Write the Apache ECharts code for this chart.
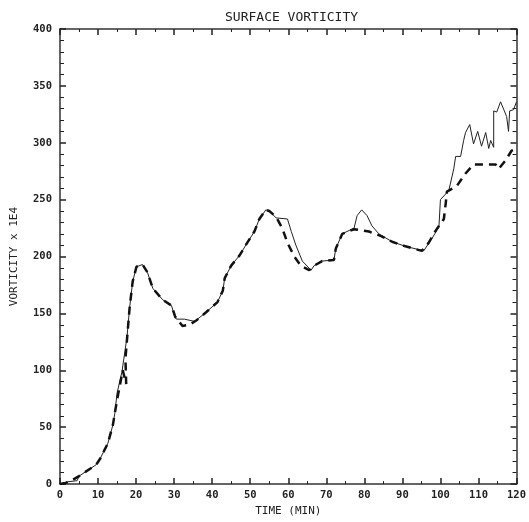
<!DOCTYPE html>
<html>
<head>
<meta charset="utf-8">
<script src="https://cdn.jsdelivr.net/npm/echarts@6/dist/echarts.min.js"></script>
<style>
html, body { margin: 0; padding: 0; background: #fff; }
#main { width: 529px; height: 522px; }
</style>
</head>
<body>
<div id="main"></div>
<script>
// solid curve
var solidTime = [0, 2, 4.5, 5, 9.5, 10.5, 12.6, 13.9, 14.4, 15, 16.3, 17.6, 18.3, 19.1, 20.1, 21.7, 23, 24.4, 27, 29.3, 30.1, 30.6, 32.7, 35.4, 38.4, 41.4, 42.8, 43.3, 45, 47.2, 49.2, 51.1, 52.4, 54.1, 55, 56.8, 59.8, 60.8, 62, 63.7, 66, 66.8, 68.9, 72, 72.5, 74.2, 77.3, 78.1, 79.3, 80.7, 82, 83.8, 87.3, 90.8, 95.6, 97.8, 99.6, 100, 102.2, 103.5, 104, 105.3, 106.1, 106.6, 107.7, 108.7, 109.8, 110.8, 111.9, 112.7, 113.2, 114, 114, 114.8, 115.8, 116.8, 117.4, 117.9, 118.2, 119.2, 120];
var solidVort = [0, 2, 3, 7, 17, 22, 36, 52, 62, 80, 99, 129, 155, 178, 191, 193, 186, 172, 162, 157, 148, 145, 145, 143, 151, 160, 170, 181, 192, 201, 212, 222, 233, 241, 240, 234, 233, 222, 210, 196, 188, 192, 196, 197, 207, 220, 225, 236, 241, 236, 227, 220, 213, 209, 205, 216, 226, 250, 258, 277, 288, 288, 302, 309, 316, 299, 310, 297, 309, 295, 302, 296, 328, 327, 336, 328, 323, 310, 328, 329, 336];

// dashed curve
var dashTime = [0, 1.5, 3, 5, 9.5, 10.5, 12.6, 13.9, 15, 16.5, 17.4, 17.2, 17.8, 18.3, 19.1, 20.1, 21.7, 23, 24.4, 27, 29.3, 30.3, 32.2, 34, 35.9, 38.4, 41.4, 42.8, 43.3, 45, 47.2, 49.2, 51.1, 52.4, 54.1, 55, 56.8, 58.4, 59.8, 61.6, 63.3, 65.5, 66.8, 68.9, 72, 72.5, 74.2, 77.3, 81.2, 84.4, 87.3, 90.8, 95.1, 96.9, 98.8, 100.9, 101.4, 101.7, 104.3, 106.6, 108.7, 111.9, 114.5, 115.3, 117, 118.7, 120];
var dashVort = [0, 1, 3, 7, 17, 22, 36, 52, 74, 100, 88, 110, 135, 155, 178, 191, 193, 186, 172, 162, 157, 147, 139, 140, 144, 151, 160, 170, 181, 192, 201, 212, 222, 233, 241, 240, 235, 225, 212, 200, 192, 188, 192, 196, 197, 207, 220, 224, 222, 218, 213, 209, 205, 212, 223, 233, 247, 257, 262, 273, 281, 281, 281, 277, 284, 293, 295];

var xTicks = [0, 10, 20, 30, 40, 50, 60, 70, 80, 90, 100, 110, 120];
var yTicks = [0, 50, 100, 150, 200, 250, 300, 350, 400];

function pairs(t, v) {
    var out = [];
    for (var i = 0; i < t.length; i++) {
        out.push([t[i], v[i]]);
    }
    return out;
}

var font = 'DejaVu Sans Mono';
var axisLine = { show: true, onZero: false, lineStyle: { color: '#333', width: 1.5 } };

function xAxisCfg(pos, labels) {
    return {
        type: 'value', position: pos, min: 0, max: 120, interval: 10,
        axisLine: axisLine,
        axisTick: { show: true, inside: true, length: 6, lineStyle: { color: '#222', width: 1.5 } },
        minorTick: { show: true, splitNumber: 2, length: 3, lineStyle: { color: '#222', width: 1 } },
        splitLine: { show: false },
        axisLabel: { show: labels, color: '#222', fontFamily: font, fontSize: 10.5, fontWeight: 'bold', margin: 6 },
        name: labels ? 'TIME (MIN)' : '',
        nameLocation: 'middle', nameGap: 19,
        nameTextStyle: { color: '#222', fontFamily: font, fontSize: 11 }
    };
}

function yAxisCfg(pos, labels) {
    return {
        type: 'value', position: pos, min: 0, max: 400, interval: 50,
        axisLine: axisLine,
        axisTick: { show: true, inside: true, length: 6, lineStyle: { color: '#222', width: 1.5 } },
        minorTick: { show: true, splitNumber: 5, length: 4, lineStyle: { color: '#222', width: 1 } },
        splitLine: { show: false },
        axisLabel: { show: labels, color: '#222', fontFamily: font, fontSize: 10.5, fontWeight: 'bold', margin: 8 },
        name: labels ? 'VORTICITY x 1E4' : '',
        nameLocation: 'middle', nameGap: 40, nameRotate: 90,
        nameTextStyle: { color: '#222', fontFamily: font, fontSize: 11 }
    };
}

var option = {
    backgroundColor: '#fff',
    animation: false,
    title: {
        text: 'SURFACE VORTICITY',
        left: 220, top: 6,
        textStyle: { color: '#222', fontFamily: font, fontSize: 13, fontWeight: 'normal' }
    },
    grid: { left: 60, top: 29, right: 11, bottom: 34 },
    xAxis: [xAxisCfg('bottom', true), xAxisCfg('top', false)],
    yAxis: [yAxisCfg('left', true), yAxisCfg('right', false)],
    series: [
        {
            type: 'line', data: pairs(solidTime, solidVort),
            showSymbol: false, symbol: 'none',
            lineStyle: { color: '#222', width: 1 }
        },
        {
            type: 'line', data: pairs(dashTime, dashVort),
            showSymbol: false, symbol: 'none',
            lineStyle: { color: '#111', width: 2.5, type: [8, 6] }
        }
    ]
};

var myChart = echarts.init(document.getElementById('main'));
myChart.setOption(option);
</script>
</body>
</html>
